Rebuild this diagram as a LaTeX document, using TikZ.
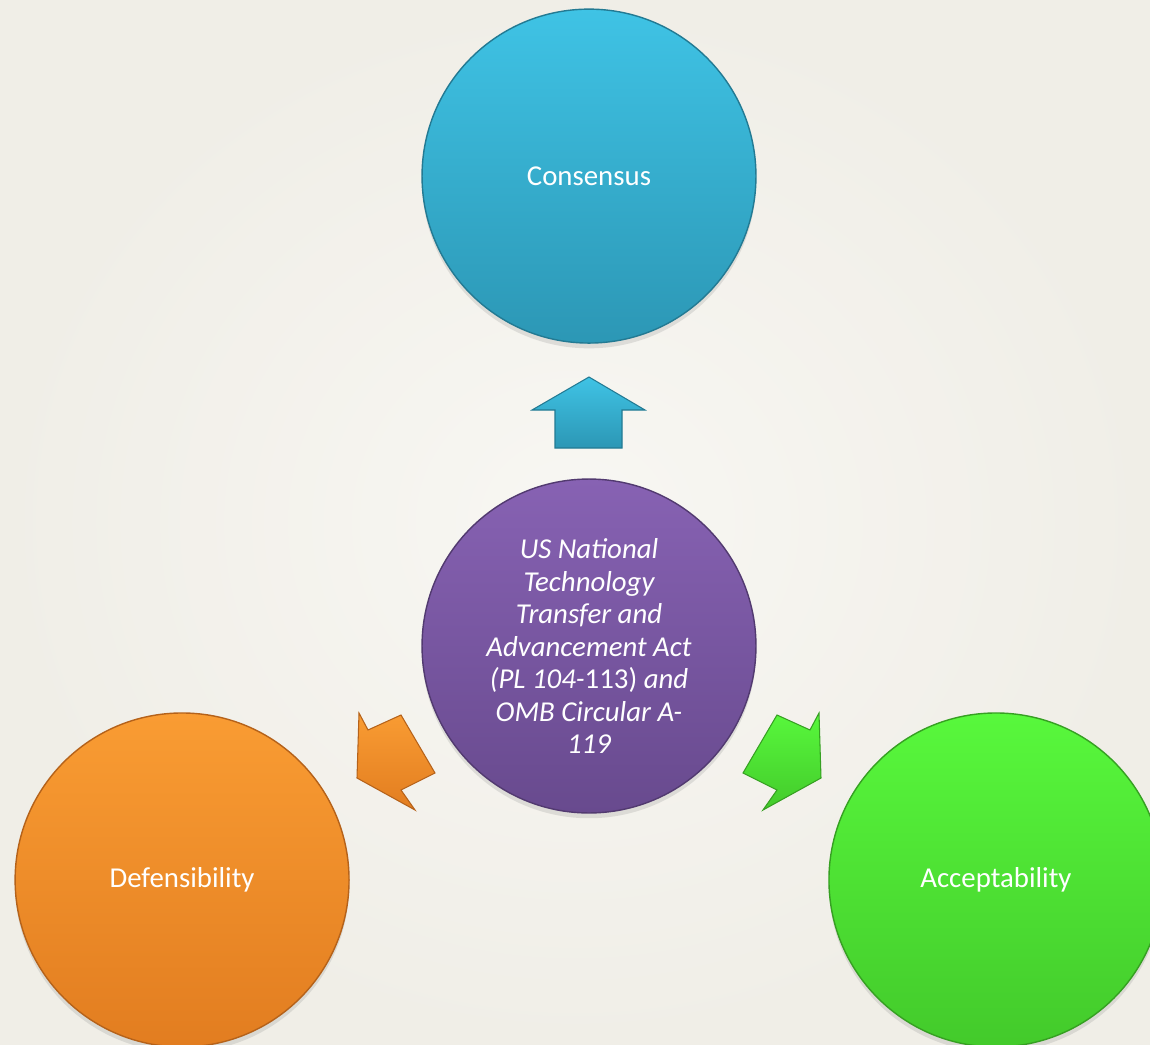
\documentclass[tikz,border=0pt]{standalone}
\usepackage{fontspec}
\setmainfont{Carlito}
\usetikzlibrary{positioning,shadows}

\definecolor{paper}{HTML}{F0EEE7}
\definecolor{paperlight}{HTML}{F8F7F3}
\definecolor{cyantop}{HTML}{3FC3E5}
\definecolor{cyanbot}{HTML}{2C97B5}
\definecolor{cyanrim}{HTML}{237A93}
\definecolor{purptop}{HTML}{8762B3}
\definecolor{purpbot}{HTML}{684A8E}
\definecolor{purprim}{HTML}{523A70}
\definecolor{orngtop}{HTML}{F99C33}
\definecolor{orngbot}{HTML}{E27D20}
\definecolor{orngrim}{HTML}{B5621A}
\definecolor{grentop}{HTML}{58F83C}
\definecolor{grenbot}{HTML}{43CA2B}
\definecolor{grenrim}{HTML}{36A022}

\begin{document}
\begin{tikzpicture}[x=0.02cm,y=-0.02cm,node distance=9.4cm,on grid,
    bubble/.style={circle,minimum size=6.68cm,inner sep=0pt,text=white,
      line width=0.8pt,font=\fontsize{16.4}{18.5}\selectfont,
      drop shadow={opacity=.2,shadow xshift=0pt,shadow yshift=-3pt}},
    cyanfill/.style={top color=cyantop,bottom color=cyanbot,draw=cyanrim},
    purpfill/.style={top color=purptop,bottom color=purpbot,draw=purprim},
    orngfill/.style={top color=orngtop,bottom color=orngbot,draw=orngrim},
    grenfill/.style={top color=grentop,bottom color=grenbot,draw=grenrim},
    blockarrow/.style={line width=0.6pt,line join=miter}]

  \clip (0,0) rectangle (1150,1045);
  \shade[inner color=paperlight,outer color=paper] (0,0) rectangle (1150,1045);

  \node[bubble,purpfill,align=center,
        font=\fontsize{16.4}{18.5}\selectfont\itshape] (act) at (589,646)
    {US National\\Technology\\Transfer and\\Advancement Act\\(PL 104-{\upshape 113)} and\\OMB Circular A-\\119};
  \node[bubble,cyanfill] (cons) [above=of act] {Consensus};
  \node[bubble,orngfill] (def) [below left=4.68cm and 8.14cm of act] {Defensibility};
  \node[bubble,grenfill] (acc) [below right=4.68cm and 8.14cm of act] {Acceptability};

  % block arrows
  \draw[blockarrow,cyanfill] (589,377) -- (645,410) -- (622,410) -- (622,448)
    -- (555,448) -- (555,410) -- (532,410) -- cycle;
  \draw[blockarrow,grenfill] (777,715) -- (810,730) -- (819,713) -- (821,778)
    -- (763,810) -- (777,790) -- (743,773) -- cycle;
  \draw[blockarrow,orngfill] (401,715) -- (368,730) -- (359,713) -- (357,778)
    -- (415,810) -- (401,790) -- (435,773) -- cycle;
\end{tikzpicture}
\end{document}
